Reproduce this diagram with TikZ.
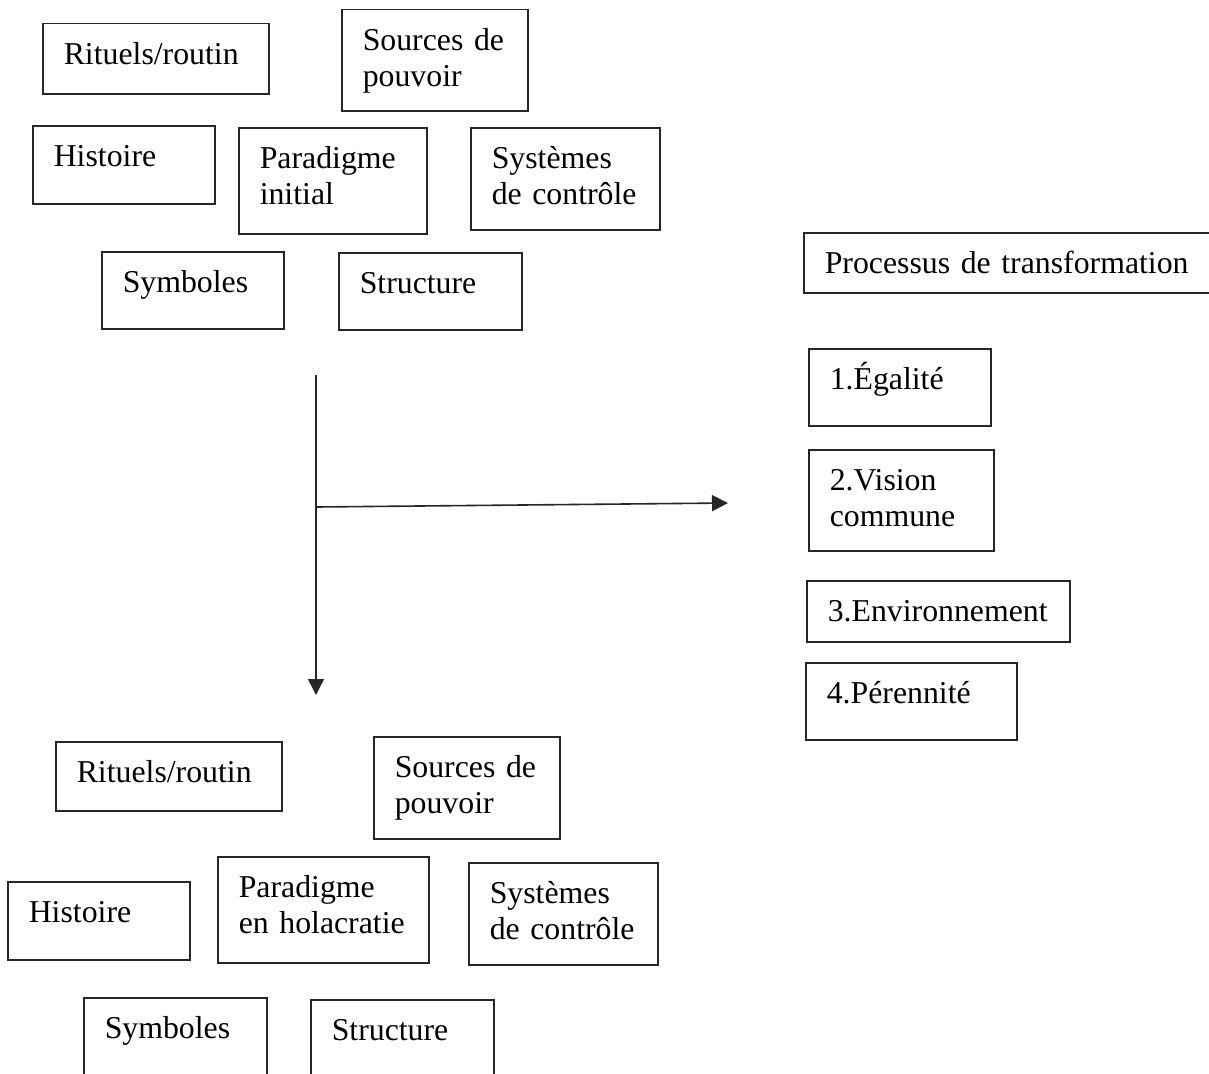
\documentclass[tikz,border=0pt]{standalone}
\usepackage{fontspec}
\setmainfont{Liberation Serif}
\usepackage{tikz}
\usetikzlibrary{arrows.meta}
\colorlet{edge}{black!85}
\newcommand\boxfont{\fontsize{31.8}{36}\selectfont}
\tikzstyle{box}=[draw=edge,line width=1.5pt,anchor=north west,align=left,inner xsep=21pt,inner ysep=0pt,text height=41pt,font=\boxfont]
\tikzstyle{flow}=[draw=edge,line width=1.6pt,-{Triangle[length=16pt,width=16pt]}]
\begin{document}
\begin{tikzpicture}[x=1pt,y=-1pt]
  \useasboundingbox (0,0) rectangle (1209,1073);
  \clip (0,0) rectangle (1209,1073);
  % initial paradigm
  \node[box,text width=184pt,text depth=29pt] (ritA) at (42,23) {Rituels/routin};
  \node[box,text width=144pt,text depth=60pt] (souA) at (341,9) {Sources de\\pouvoir};
  \node[box,text width=140pt,text depth=37pt] (hisA) at (32,125) {Histoire};
  \node[box,text width=146pt,text depth=65pt] (parA) at (238,127) {Paradigme\\initial};
  \node[box,text width=147pt,text depth=61pt] (sysA) at (470,127) {Systèmes\\de contrôle};
  \node[box,text width=140pt,text depth=36pt] (symA) at (101,251) {Symboles};
  \node[box,text width=141pt,text depth=36pt] (strA) at (338,252) {Structure};
  % transformation
  \node[box,text width=378pt,text depth=19pt] (proc) at (803,232) {Processus de transformation};
  \node[box,text width=140pt,text depth=36pt] (ega) at (808,348) {1.Égalité};
  \node[box,text width=143pt,text depth=60pt] (vis) at (808,449) {2.Vision\\commune};
  \node[box,text width=221pt,text depth=20pt] (env) at (806,580) {3.Environnement};
  \node[box,text width=169pt,text depth=36pt] (per) at (805,662) {4.Pérennité};
  % holacracy paradigm
  \node[box,text width=184pt,text depth=28pt] (ritB) at (55,741) {Rituels/routin};
  \node[box,text width=144pt,text depth=61pt] (souB) at (373,736) {Sources de\\pouvoir};
  \node[box,text width=140pt,text depth=37pt] (hisB) at (7,881) {Histoire};
  \node[box,text width=169pt,text depth=65pt] (parB) at (217,856) {Paradigme\\en holacratie};
  \node[box,text width=147pt,text depth=61pt] (sysB) at (468,862) {Systèmes\\de contrôle};
  \node[box,text width=141pt,text depth=49pt] (symB) at (83,997) {Symboles};
  \node[box,text width=141pt,text depth=49pt] (strB) at (310,999) {Structure};
  % arrows
  \coordinate (start) at (316,375);
  \coordinate (end) at (316,695);
  \coordinate (fork) at (316,507);
  \coordinate (side) at (728,503);
  \draw[flow] (start) -- (end);
  \draw[flow] (fork) -- (side);
\end{tikzpicture}
\end{document}
